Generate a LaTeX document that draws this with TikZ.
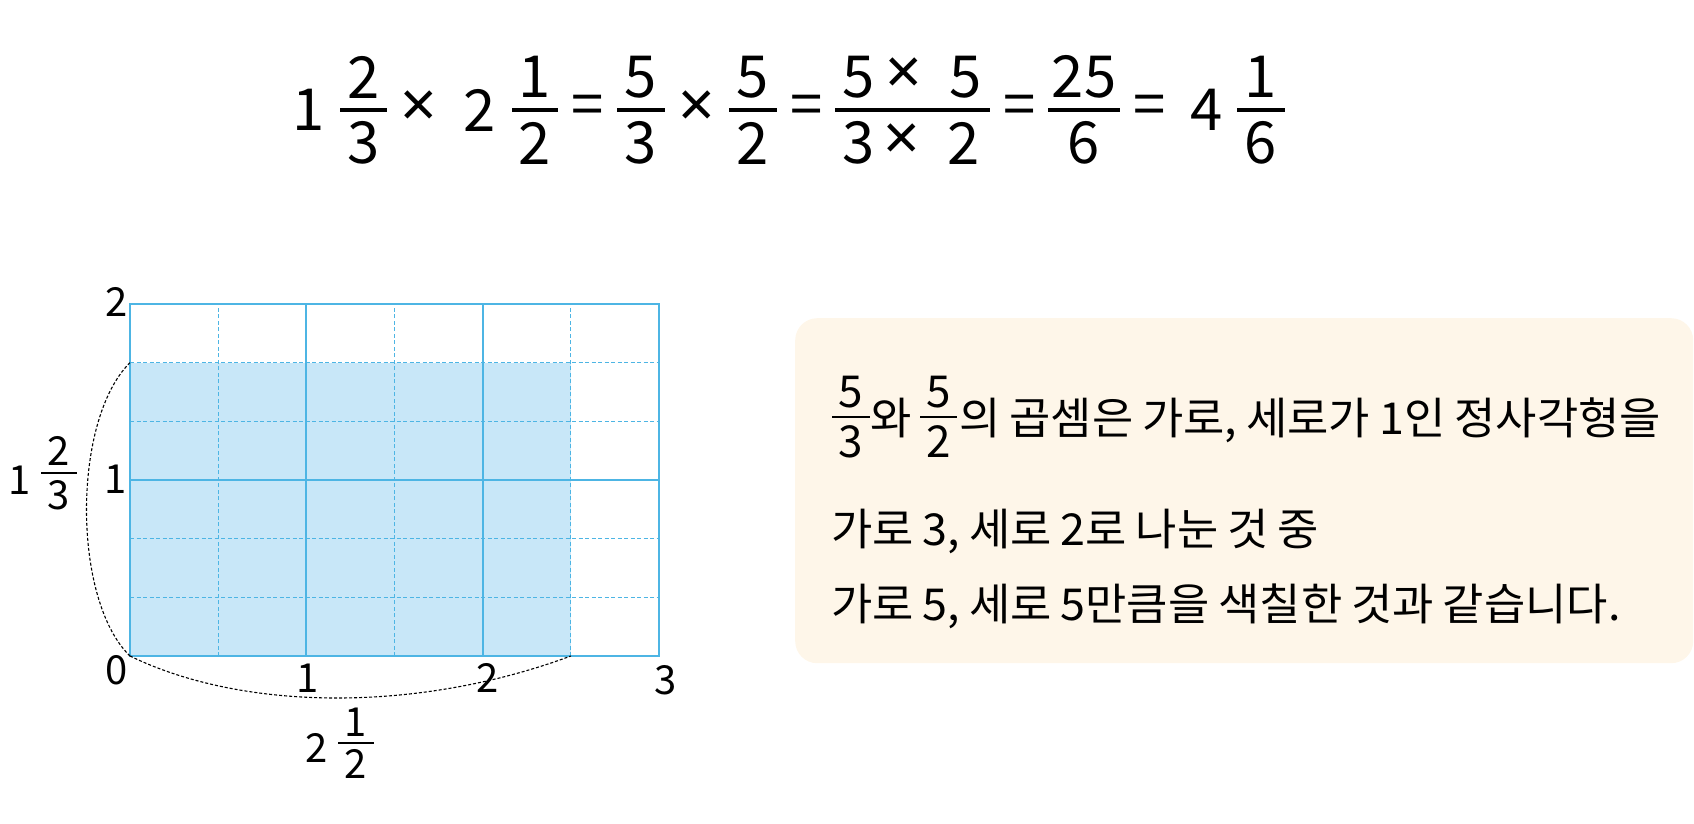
\documentclass[tikz,border=0pt]{standalone}
\usepackage{fontspec}
\setmainfont{Noto Sans CJK KR}
\newfontfamily\txtfam[FakeStretch=1.02]{Noto Sans CJK KR}
\newfontfamily\symfam{Noto Sans}
\newcommand\txtsetup{\txtfam\fontsize{44}{48}\selectfont\spaceskip=9pt\relax}
\definecolor{gridblue}{HTML}{4DB5E4}
\definecolor{shadeblue}{HTML}{C8E7F8}
\definecolor{boxfill}{HTML}{FEF6E9}
\tikzset{
  eqd/.style={inner sep=0pt, font=\fontsize{58}{60}\selectfont},
  eqx/.style={inner sep=0pt, font=\symfam\fontsize{64}{66}\selectfont},
  labd/.style={inner sep=0pt, font=\fontsize{40}{42}\selectfont},
  txt/.style={inner sep=0pt, anchor=base west, font=\txtsetup},
  txtd/.style={inner sep=0pt, font=\fontsize{44}{48}\selectfont},
  gridsolid/.style={draw=gridblue, line width=2.2pt},
  griddash/.style={draw=gridblue, line width=1.2pt, dash pattern=on 4pt off 2.5pt},
  curvedash/.style={draw=black, line width=1.1pt, dash pattern=on 3pt off 2pt},
  ebar/.style={line width=4pt},
  lbar/.style={line width=2.6pt},
  tbar/.style={line width=2.8pt},
}
\newcommand\fr[9]{%
  \draw[#2] (#4-#6,#5) -- (#4+#6,#5);
  \node[#1] (#3n) at (#4,#5-#7) {#8};
  \node[#1] (#3d) at (#4,#5+#7) {#9};
}
\begin{document}
\begin{tikzpicture}[x=1pt, y=-1pt]
\useasboundingbox (0,0) rectangle (1694,824);

% ---- top equation ----
\node[eqd] (e1) at (308.5,110) {1};
\fr{eqd}{ebar}{fa}{363.5}{110}{23.5}{33}{2}{3}
\node[eqx] (ex1) at (419,109) {×};
\node[eqd] (e2) at (480,110) {2};
\fr{eqd}{ebar}{fb}{535}{110}{23}{33}{1}{2}
\node[eqd] (eq1) at (587.5,110) {=};
\fr{eqd}{ebar}{fc}{641}{110}{24}{33}{5}{3}
\node[eqx] (ex2) at (697,109) {×};
\fr{eqd}{ebar}{fd}{753}{110}{24}{33}{5}{2}
\node[eqd] (eq2) at (807,110) {=};
\draw[ebar] (835,110) -- (990,110);
\node[eqd] (fen1) at (859,77) {5};
\node[eqx] (fen2) at (904,76) {×};
\node[eqd] (fen3) at (966,77) {5};
\node[eqd] (fed1) at (859,143) {3};
\node[eqx] (fed2) at (902,142) {×};
\node[eqd] (fed3) at (964,143) {2};
\node[eqd] (eq3) at (1019.5,110) {=};
\fr{eqd}{ebar}{ff}{1084}{110}{36}{33}{25}{6}
\node[eqd] (eq4) at (1149.5,110) {=};
\node[eqd] (e4) at (1206.5,110) {4};
\fr{eqd}{ebar}{fg}{1261}{110}{24}{33}{1}{6}

% ---- grid ----
\begin{scope}[shift={(130,656)}, x=88.17pt, y=58.67pt]
  \fill[shadeblue] (0,0) rectangle (5,5);
  \foreach \i in {1,3,5} \draw[griddash] (\i,0) -- (\i,6);
  \foreach \j in {1,2,4,5} \draw[griddash] (0,\j) -- (6,\j);
  \foreach \i in {2,4} \draw[gridsolid] (\i,0) -- (\i,6);
  \draw[gridsolid] (0,3) -- (6,3);
  \draw[gridsolid] (0,0) rectangle (6,6);
  \coordinate (sTop) at (0,5);
  \coordinate (sO) at (0,0);
  \coordinate (sRight) at (5,0);
\end{scope}
\draw[curvedash] (sTop) .. controls (72,420) and (72,600) .. (sO);
\draw[curvedash] (sO) .. controls (245,712) and (420,712) .. (sRight);

% ---- axis labels ----
\node[labd] (ly2) at (117,302) {2};
\node[labd] (ly1) at (116,479) {1};
\node[labd] (l0) at (117,670) {0};
\node[labd] (lx1) at (308,678) {1};
\node[labd] (lx2) at (488,678) {2};
\node[labd] (lx3) at (666,680) {3};
\node[labd] (lh1) at (20,480) {1};
\fr{labd}{lbar}{lh}{59}{473}{18}{22.5}{2}{3}
\node[labd] (lw2) at (317,748) {2};
\fr{labd}{lbar}{lw}{356}{743}{18}{20.5}{1}{2}

% ---- explanation box ----
\node[fill=boxfill, rounded corners=22pt, minimum width=898pt, minimum height=345pt,
      inner sep=0pt, anchor=north west] (box) at (795,318) {};
\fr{txtd}{tbar}{t1}{851}{417}{19}{25}{5}{3}
\node[txt] (wa) at (870,434) {와};
\fr{txtd}{tbar}{t2}{938.5}{417}{18.5}{25}{5}{2}
\node[txt] (l1) at (959,434) {의 곱셈은 가로, 세로가 1인 정사각형을};
\node[txt] (l2) at (831,545) {가로 3, 세로 2로 나눈 것 중};
\node[txt] (l3) at (831,620) {가로 5, 세로 5만큼을 색칠한 것과 같습니다.};
\end{tikzpicture}
\end{document}
